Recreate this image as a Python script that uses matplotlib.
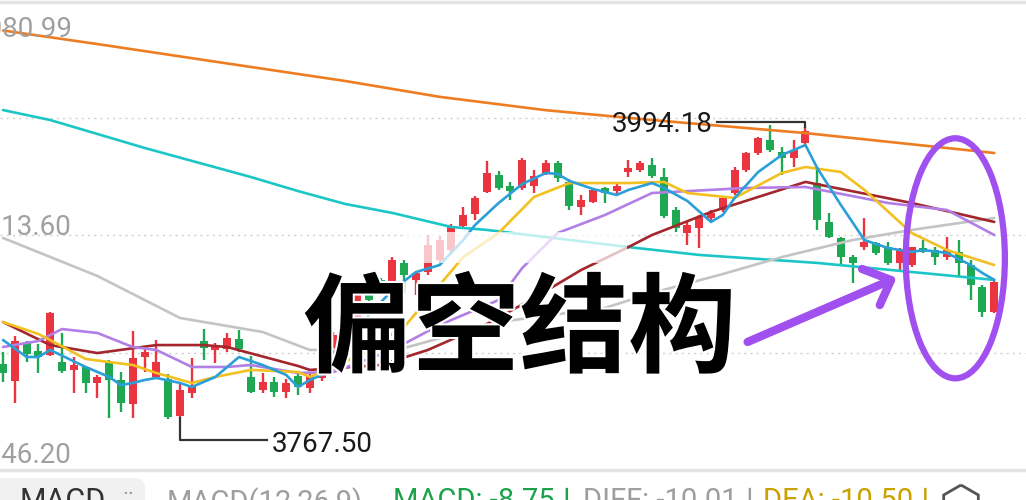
import matplotlib
matplotlib.use('Agg')
import matplotlib.pyplot as plt
import matplotlib.patheffects as pe
from matplotlib.patches import Ellipse, Rectangle, RegularPolygon, FancyBboxPatch, Circle
from matplotlib.lines import Line2D
from matplotlib.transforms import IdentityTransform
import numpy as np

# ---------------- data ----------------
opens = [3821.7, 3809.6, 3836.7, 3831.0, 3828.1, 3823.1, 3817.5, 3819.6, 3808.2, 3822.4,
         3810.3, 3793.2, 3826.7, 3812.5, 3811.0, 3784.7, 3801.1, 3838.1, 3831.7, 3832.4,
         3839.5, 3812.5, 3803.2, 3808.9, 3801.8, 3813.2, 3804.6, 3811.8, 3823.1, 3840.2,
         3853.1, 3875.9, 3881.6, 3879.4, 3893.7, 3881.6, 3887.2, 3895.8, 3902.9, 3920.0,
         3928.6, 3944.2, 3956.3, 3948.5, 3947.1, 3948.5, 3957.8, 3964.9, 3951.4, 3933.5,
         3937.1, 3947.1, 3944.9, 3958.5, 3959.9, 3963.5, 3954.9, 3931.4, 3915.0, 3918.6,
         3925.7, 3931.4, 3943.5, 3959.9, 3972.0, 3981.3, 3972.7, 3968.5, 3979.1, 3950.6,
         3922.9, 3911.5, 3897.9, 3905.1, 3907.9, 3905.1, 3893.7, 3892.2, 3904.3, 3902.9,
         3897.9, 3901.5, 3892.2, 3876.6, 3858.8]
highs = [3830.3, 3841.7, 3838.1, 3836.0, 3858.8, 3843.8, 3826.7, 3820.3, 3813.9, 3824.6,
         3816.0, 3845.2, 3833.1, 3838.8, 3814.6, 3807.5, 3826.0, 3846.6, 3836.7, 3843.8,
         3845.9, 3827.4, 3815.3, 3812.5, 3811.0, 3815.3, 3816.0, 3826.7, 3844.5, 3858.8,
         3874.4, 3878.7, 3883.0, 3897.9, 3895.8, 3887.2, 3913.6, 3912.9, 3921.4, 3933.5,
         3941.4, 3966.3, 3959.2, 3951.4, 3968.5, 3959.9, 3967.0, 3966.3, 3953.5, 3942.1,
         3947.1, 3947.8, 3950.6, 3967.0, 3966.3, 3968.5, 3961.3, 3933.5, 3922.9, 3927.9,
         3931.4, 3940.7, 3962.0, 3972.7, 3983.4, 3991.9, 3976.3, 3981.3, 3990.5, 3959.9,
         3929.3, 3912.2, 3899.4, 3925.7, 3908.6, 3908.6, 3904.3, 3905.1, 3910.0, 3905.1,
         3912.2, 3910.0, 3895.8, 3878.0, 3881.6]
lows = [3808.9, 3793.9, 3823.1, 3815.3, 3827.4, 3815.3, 3801.1, 3801.1, 3797.5, 3783.3,
        3787.5, 3783.3, 3816.0, 3811.8, 3782.6, 3783.2, 3797.5, 3824.6, 3822.4, 3830.3,
        3830.3, 3801.1, 3801.1, 3798.2, 3797.5, 3799.6, 3801.1, 3809.6, 3820.3, 3838.1,
        3850.2, 3863.7, 3874.4, 3876.6, 3872.3, 3870.9, 3885.1, 3893.7, 3900.8, 3918.6,
        3924.3, 3943.5, 3945.7, 3938.5, 3945.7, 3943.5, 3956.3, 3951.4, 3931.4, 3927.9,
        3936.4, 3936.4, 3942.8, 3954.9, 3958.5, 3954.2, 3925.7, 3915.7, 3906.5, 3904.3,
        3922.9, 3930.0, 3942.1, 3958.5, 3970.6, 3972.7, 3956.3, 3962.0, 3976.3, 3917.2,
        3911.5, 3892.2, 3879.4, 3902.9, 3899.4, 3892.2, 3888.7, 3890.8, 3900.8, 3892.2,
        3895.8, 3883.7, 3867.3, 3855.2, 3858.1]
closes = [3815.3, 3838.1, 3828.8, 3826.7, 3858.1, 3816.7, 3821.0, 3808.2, 3812.5, 3810.3,
          3793.9, 3826.0, 3830.3, 3823.1, 3784.0, 3803.2, 3806.0, 3833.1, 3834.5, 3840.2,
          3832.4, 3801.8, 3808.9, 3801.8, 3808.2, 3805.3, 3813.2, 3824.6, 3842.4, 3856.6,
          3872.3, 3867.3, 3878.7, 3895.8, 3885.1, 3886.5, 3906.5, 3910.0, 3920.0, 3927.9,
          3940.0, 3957.8, 3947.1, 3944.9, 3967.0, 3955.6, 3964.9, 3954.2, 3934.3, 3938.5,
          3945.7, 3943.5, 3948.5, 3961.3, 3964.9, 3955.6, 3927.1, 3918.6, 3920.7, 3926.4,
          3929.3, 3940.0, 3959.9, 3972.0, 3982.7, 3974.1, 3968.5, 3974.1, 3987.7, 3924.3,
          3912.2, 3897.9, 3893.7, 3908.6, 3900.8, 3893.7, 3902.9, 3905.1, 3901.5, 3897.9,
          3902.9, 3893.7, 3878.0, 3858.8, 3880.1]

ma5_idx = [0, 2, 3, 4, 7, 9, 10, 11, 12, 13, 15, 16, 18, 20, 22, 24, 25, 26, 27, 29,
           31, 33, 35, 37, 39, 40, 42, 44, 46, 47, 48, 50, 52, 53, 55, 56, 58, 60, 61, 62,
           64, 66, 68, 69, 71, 73, 75, 77, 78, 80, 82, 83, 84]
ma5_val = [3838.8, 3826.7, 3826.7, 3831.7, 3819.6, 3812.5, 3806.7, 3808.2, 3810.3, 3811.8,
           3808.2, 3805.3, 3812.5, 3826.7, 3821.0, 3813.9, 3805.3, 3810.3, 3813.9, 3831.7,
           3856.6, 3874.4, 3887.2, 3892.2, 3910.0, 3920.7, 3936.4, 3949.9, 3957.8, 3957.1,
           3952.1, 3946.4, 3942.1, 3945.7, 3950.6, 3947.1, 3937.8, 3922.9, 3927.9, 3940.0,
           3958.5, 3970.6, 3977.7, 3961.3, 3935.0, 3910.0, 3904.3, 3901.5, 3902.9, 3900.8,
           3892.2, 3886.5, 3881.6]
ma10_idx = [0, 3, 4, 7, 9, 11, 13, 16, 18, 21, 25, 26, 29, 34, 39, 42, 45, 48, 53, 56,
            58, 62, 66, 68, 71, 73, 77, 80, 84]
ma10_val = [3851.6, 3843.1, 3838.8, 3825.3, 3823.1, 3821.0, 3815.3, 3808.2, 3812.5, 3817.5,
            3816.0, 3812.5, 3823.1, 3848.1, 3897.9, 3915.0, 3940.7, 3950.6, 3950.6, 3951.4,
            3943.5, 3940.0, 3957.8, 3962.0, 3958.5, 3945.7, 3915.0, 3902.9, 3892.2]
ma20_idx = [0, 3, 5, 8, 11, 13, 16, 19, 21, 25, 28, 33, 37, 42, 44, 47, 51, 55, 63, 68,
            75, 80, 84]
ma20_val = [3833.8, 3838.1, 3846.6, 3843.8, 3833.8, 3831.7, 3819.6, 3819.6, 3821.0, 3815.3,
            3816.0, 3831.7, 3849.5, 3867.3, 3890.1, 3915.0, 3927.8, 3943.5, 3947.1, 3947.8,
            3936.4, 3931.4, 3913.6]
ma30_idx = [0, 4, 8, 13, 17, 19, 25, 26, 32, 36, 41, 45, 49, 53, 55, 60, 68, 77, 84]
ma30_val = [3851.6, 3835.2, 3829.5, 3835.2, 3835.2, 3833.8, 3820.3, 3817.5, 3821.0, 3831.7,
            3850.2, 3868.7, 3888.7, 3905.0, 3913.6, 3930.0, 3951.4, 3936.4, 3922.9]
ma60_idx = [0, 8, 15, 22, 26, 34, 42, 51, 55, 61, 66, 72, 77, 84]
ma60_val = [3911.5, 3884.4, 3854.5, 3844.5, 3831.7, 3833.1, 3851.6, 3861.6, 3872.3, 3885.8,
            3897.9, 3910.0, 3917.2, 3925.7]
ma120_idx = [0, 4, 12, 21, 25, 29, 33, 38, 41, 53, 59, 69, 84]
ma120_val = [4002.6, 3995.5, 3975.6, 3954.9, 3944.9, 3935.7, 3929.3, 3919.3, 3917.2, 3905.0,
             3899.4, 3893.7, 3881.6]
ma250_idx = [0, 8, 17, 29, 37, 46, 55, 68, 84]
ma250_val = [4059.3, 4049.6, 4038.3, 4023.3, 4012.0, 4002.5, 3995.5, 3986.2, 3972.0]

y_labels = ["4080.99", "3913.60", "3746.20"]
y_top, y_bottom = 4080.99, 3746.20
high_mark = (68, 3994.18)
low_mark = (15, 3767.50)
title_text = "偏空结构"
macd_texts = [("MACD(12,26,9)", '#9e9e9e'), ("MACD: -8.75↓", '#1aa34a'),
              ("DIFF: -10.01↓", '#9e9e9e'), ("DEA: -10.50↓", '#c9a100')]

# ---------------- figure ----------------
W, H = 1026, 500
fig = plt.figure(figsize=(W / 100, H / 100), dpi=100)
fig.patch.set_facecolor('white')
ax = fig.add_axes([0, 30 / H, 1, 470 / H])
ax.set_axis_off()
ax.set_xlim(-0.254, 86.69)
ax.set_ylim(y_bottom, y_top)

RED = '#ea3440'
GREEN = '#1ea854'

# grid
for lv in np.linspace(y_bottom, y_top, 5)[1:-1]:
    ax.axhline(lv, color='#cfcfcf', lw=1.0, ls=(0, (1.5, 3)), zorder=0)

# candles
x = np.arange(len(opens))
o = np.array(opens); c = np.array(closes); h = np.array(highs); l = np.array(lows)
up = c >= o
cols = np.where(up, RED, GREEN)
ax.vlines(x, l, h, colors=cols, lw=1.7, zorder=2)
body_lo = np.minimum(o, c)
body_h = np.maximum(np.abs(c - o), 0.6)
ax.bar(x, body_h, bottom=body_lo, width=0.68, color=cols, zorder=2, linewidth=0)

# moving averages
lines = [
    (ma250_idx, ma250_val, '#ee7d22'),
    (ma120_idx, ma120_val, '#1cc6c6'),
    (ma60_idx, ma60_val, '#c4c4c4'),
    (ma30_idx, ma30_val, '#a3262c'),
    (ma20_idx, ma20_val, '#b27fe6'),
    (ma10_idx, ma10_val, '#f2c020'),
    (ma5_idx, ma5_val, '#2a9fd8'),
]
for xi, yv, col in lines:
    ax.plot(xi, yv, color=col, lw=1.9, zorder=3, solid_capstyle='round', solid_joinstyle='round')

# watermark blur band
ax.add_patch(Rectangle((34.1, 3893.6), 18.8, 22.1, facecolor='white', alpha=0.72,
                       edgecolor='none', zorder=4))

# high / low annotations
ax.plot([high_mark[0], high_mark[0], 60.5], [highs[68], high_mark[1], high_mark[1]],
        color='#333333', lw=1.6, zorder=5)
ax.text(60.1, 3992.0, f"{high_mark[1]:.2f}", ha='right', va='center', fontsize=20,
        family=['Roboto', 'DejaVu Sans'], color='#1a1a1a', zorder=6)
ax.plot([low_mark[0], low_mark[0], 22.4], [lows[15], low_mark[1], low_mark[1]],
        color='#333333', lw=1.6, zorder=5)
ax.text(22.8, 3764.7, f"{low_mark[1]:.2f}", ha='left', va='center', fontsize=20,
        family=['Roboto', 'DejaVu Sans'], color='#1a1a1a', zorder=6)

# y labels (partly cut at the left edge, as in the source screenshot)
for txt, ybase in zip(y_labels, [37, 235, 463]):
    fig.text(72 / W, 1 - ybase / H, txt, ha='right', va='baseline', fontsize=20,
             family=['Roboto', 'DejaVu Sans'], color='#a0a0a0')

# big title text
ax.text(43.8, 3844.0, title_text, ha='center', va='center', fontsize=78,
        family=['Noto Sans CJK SC', 'DejaVu Sans'], fontweight='black', color='black',
        zorder=8, path_effects=[pe.withStroke(linewidth=3, foreground='white')])

# purple ellipse & arrow
PURPLE = '#a050ee'
ax.add_patch(Ellipse((80.7, 3897.0), 8.4, 171, fill=False, edgecolor=PURPLE, lw=4.5, zorder=9))
ax.plot([63.1, 75.25], [3837.4, 3881.5], color=PURPLE, lw=6, solid_capstyle='round', zorder=9)
ax.plot([72.8, 75.25, 74.3], [3889.4, 3881.5, 3863.7], color=PURPLE, lw=6,
        solid_capstyle='round', solid_joinstyle='round', zorder=9)

# top border and bottom separator
fig.add_artist(Line2D([0, 1], [1 - 1.5 / H, 1 - 1.5 / H], color='#e4e4e4', lw=2.5))
fig.add_artist(Line2D([0, 1], [1 - 470 / H, 1 - 470 / H], color='#e4e4e4', lw=2.5))

# MACD strip
tab = FancyBboxPatch((-12, -10), 157, 32, boxstyle='round,pad=0,rounding_size=10',
                     transform=IdentityTransform(), facecolor='#f1f1f1', edgecolor='none')
fig.add_artist(tab)
ty = 1 - 487 / H
fig.text(20 / W, ty, "MACD", ha='left', va='top', fontsize=22,
         family=['Roboto', 'DejaVu Sans'], color='#333333')
fig.text(122 / W, ty + 0.004, "··", ha='left', va='top', fontsize=16,
         family=['Roboto', 'DejaVu Sans'], color='#999999')
for (txt, col), xp in zip(macd_texts, [167, 393, 583, 763]):
    fig.text(xp / W, ty, txt, ha='left', va='top', fontsize=21,
             family=['Roboto', 'DejaVu Sans'], color=col)
fig.add_artist(RegularPolygon((961, -5), 6, radius=20, orientation=0,
                              transform=IdentityTransform(), fill=False,
                              edgecolor='#555555', lw=2))
fig.add_artist(Circle((961, -9), 7, transform=IdentityTransform(), fill=False,
                      edgecolor='#555555', lw=2))

fig.savefig('out.png', dpi=100, facecolor='white')
